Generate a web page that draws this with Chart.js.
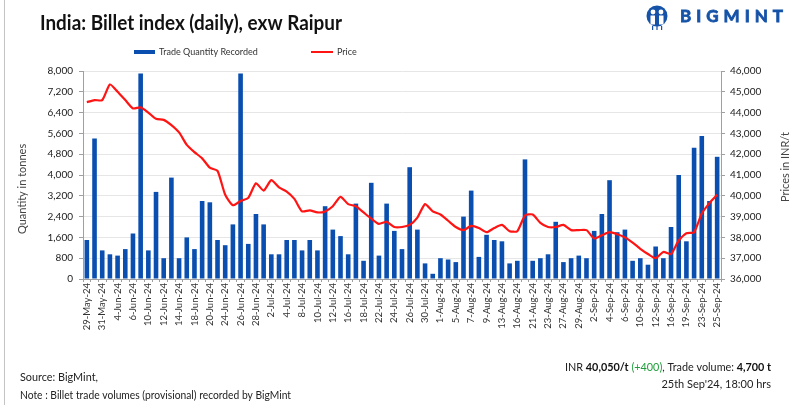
<!DOCTYPE html>
<html>
<head>
<meta charset="utf-8">
<script src="https://cdn.jsdelivr.net/npm/chart.js@4.4.1/dist/chart.umd.min.js"></script>
<style>
  html, body { margin: 0; padding: 0; background: #ffffff; overflow: hidden; }
  #wrap { width: 791px; height: 405px; position: relative; }
</style>
</head>
<body>
<div id="wrap"><canvas id="c" width="791" height="405"></canvas></div>
<script>
// ---------- DATA ----------
const categories = [
  "29-May-24","30-May-24","31-May-24","3-Jun-24","4-Jun-24","5-Jun-24","6-Jun-24","7-Jun-24",
  "10-Jun-24","11-Jun-24","12-Jun-24","13-Jun-24","14-Jun-24","15-Jun-24","18-Jun-24","19-Jun-24",
  "20-Jun-24","21-Jun-24","24-Jun-24","25-Jun-24","26-Jun-24","27-Jun-24","28-Jun-24","1-Jul-24",
  "2-Jul-24","3-Jul-24","4-Jul-24","5-Jul-24","8-Jul-24","9-Jul-24","10-Jul-24","11-Jul-24",
  "12-Jul-24","15-Jul-24","16-Jul-24","17-Jul-24","18-Jul-24","19-Jul-24","22-Jul-24","23-Jul-24",
  "24-Jul-24","25-Jul-24","26-Jul-24","29-Jul-24","30-Jul-24","31-Jul-24","1-Aug-24","2-Aug-24",
  "5-Aug-24","6-Aug-24","7-Aug-24","8-Aug-24","9-Aug-24","12-Aug-24","13-Aug-24","14-Aug-24",
  "16-Aug-24","20-Aug-24","21-Aug-24","22-Aug-24","23-Aug-24","26-Aug-24","27-Aug-24","28-Aug-24",
  "29-Aug-24","30-Aug-24","2-Sep-24","3-Sep-24","4-Sep-24","5-Sep-24","6-Sep-24","9-Sep-24",
  "10-Sep-24","11-Sep-24","12-Sep-24","13-Sep-24","16-Sep-24","17-Sep-24","19-Sep-24","20-Sep-24",
  "23-Sep-24","24-Sep-24","25-Sep-24"
];

const tradeQuantity = [
  1500,5400,1100,950,900,1150,1750,7900,
  1100,3350,800,3900,800,1600,1150,3000,
  2950,1500,1300,2100,7900,1350,2500,2100,
  950,950,1500,1500,1100,1500,1100,2800,
  1900,1650,950,2900,700,3700,900,2900,
  1850,1150,4300,1900,600,200,800,750,
  650,2400,3400,850,1700,1500,1450,600,
  700,4600,700,800,950,2200,650,800,
  900,800,1850,2500,3800,1800,1900,700,
  800,550,1250,800,2000,4000,1450,5050,
  5500,3000,4700
];

const priceValues = [
  44500,44600,44600,45350,45000,44600,44200,44250,
  44000,43700,43650,43400,43050,42450,42100,41800,
  41350,41200,40050,39550,39750,39900,40600,40250,
  40750,40400,40200,39850,39250,39300,39200,39250,
  39500,39950,39600,39500,39200,38900,38650,38750,
  38500,38500,38600,38950,39600,39250,39100,38800,
  38500,38350,38550,38450,38250,38450,38600,38300,
  38300,39050,39100,38700,38500,38500,38600,38350,
  38350,38350,37950,38100,38250,38150,38000,37750,
  37450,37200,37000,37300,37200,37850,38200,38250,
  39150,39650,40050
];

const seriesNames = ["Trade Quantity Recorded", "Price"];
const qtyAxis = { min: 0, max: 8000, step: 800 };
const priceAxis = { min: 36000, max: 46000, step: 1000 };
const titleText = "India: Billet index (daily), exw Raipur";
const leftAxisTitle = "Quantity in tonnes";
const rightAxisTitle = "Prices in INR/t";
const sourceText = "Source: BigMint,";
const noteText = "Note : Billet trade volumes (provisional) recorded by BigMint";
const dateStamp = "25th Sep'24, 18:00 hrs";
const brandName = "BIGMINT";

// ---------- STYLE ----------
const FONT = "Lato, 'Liberation Sans', sans-serif";
const BAR_COLOR = "#0a4fb0";
const LINE_COLOR = "#ff1414";
const fmt = v => Number(v).toLocaleString("en-US");

// draw text squeezed horizontally to a target width (like the narrow original font)
function drawRuns(ctx, runs, x, y, align, targetWidth) {
  let total = 0;
  runs.forEach(r => { ctx.font = r.font; total += ctx.measureText(r.text).width; });
  const k = targetWidth ? Math.min(1, targetWidth / total) : 1;
  const w = total * k;
  let sx = align === "right" ? x - w : x;
  ctx.save();
  ctx.textBaseline = "middle";
  ctx.textAlign = "left";
  runs.forEach(r => {
    ctx.font = r.font;
    ctx.fillStyle = r.color;
    const rw = ctx.measureText(r.text).width;
    ctx.save();
    ctx.translate(sx, y);
    ctx.scale(k, 1);
    ctx.fillText(r.text, 0, 0);
    ctx.restore();
    sx += rw * k;
  });
  ctx.restore();
}

const decorPlugin = {
  id: "decor",
  beforeDraw(chart) {
    const ctx = chart.ctx;
    ctx.save();
    ctx.fillStyle = "#ffffff";
    ctx.fillRect(0, 0, chart.width, chart.height);
    ctx.strokeStyle = "#c4c4c4";
    ctx.lineWidth = 1;
    ctx.beginPath(); ctx.moveTo(4.5, 0); ctx.lineTo(4.5, 405); ctx.stroke();
    ctx.restore();
  },
  afterDraw(chart) {
    const ctx = chart.ctx;
    const area = chart.chartArea;
    ctx.save();
    // Title
    drawRuns(ctx, [{ text: titleText, font: "bold 20px " + FONT, color: "#111" }], 40, 24, "left", 302);

    // Logo icon
    const cx = 657, cy = 16;
    ctx.fillStyle = "#1553a8";
    ctx.beginPath(); ctx.arc(cx, cy, 10.5, 0, Math.PI * 2); ctx.fill();
    ctx.fillStyle = "#ffffff";
    ctx.beginPath(); ctx.arc(cx - 4, cy - 4, 2.4, 0, Math.PI * 2); ctx.fill();
    ctx.beginPath(); ctx.arc(cx + 4, cy - 4, 2.4, 0, Math.PI * 2); ctx.fill();
    ctx.fillRect(cx - 6.5, cy - 0.5, 4.5, 9);
    ctx.fillRect(cx + 2, cy - 0.5, 4.5, 9);
    ctx.fillStyle = "#1553a8";
    ctx.fillRect(cx - 5, cy + 10, 1.2, 4);
    ctx.fillRect(cx + 4, cy + 10, 1.2, 4);
    ctx.fillRect(cx - 0.6, cy + 9, 1.2, 5);
    // Brand name
    ctx.fillStyle = "#1553a8";
    ctx.strokeStyle = "#1553a8";
    ctx.lineWidth = 0.8;
    ctx.font = "bold 17px " + FONT;
    ctx.textBaseline = "middle";
    ctx.textAlign = "left";
    try { ctx.letterSpacing = "5px"; } catch (e) {}
    ctx.fillText(brandName, 680, 17, 108);
    ctx.strokeText(brandName, 680, 17, 108);
    try { ctx.letterSpacing = "0px"; } catch (e) {}

    // Legend
    ctx.fillStyle = BAR_COLOR;
    ctx.fillRect(134, 50, 21, 4);
    ctx.strokeStyle = LINE_COLOR;
    ctx.lineWidth = 2;
    ctx.beginPath(); ctx.moveTo(311, 52); ctx.lineTo(333, 52); ctx.stroke();
    drawRuns(ctx, [{ text: seriesNames[0], font: "9px " + FONT, color: "#333" }], 159, 52, "left", 101);
    drawRuns(ctx, [{ text: seriesNames[1], font: "9px " + FONT, color: "#333" }], 337, 52, "left", 21);

    // Axis titles
    ctx.save();
    ctx.translate(22, (area.top + area.bottom) / 2 + 12);
    ctx.rotate(-Math.PI / 2);
    drawRuns(ctx, [{ text: leftAxisTitle, font: "11px " + FONT, color: "#444" }], -47, 0, "left", 94);
    ctx.restore();
    ctx.save();
    ctx.translate(785, (area.top + area.bottom) / 2 - 8);
    ctx.rotate(-Math.PI / 2);
    drawRuns(ctx, [{ text: rightAxisTitle, font: "11px " + FONT, color: "#444" }], -35, 0, "left", 70);
    ctx.restore();

    // Footer
    drawRuns(ctx, [{ text: sourceText, font: "11px " + FONT, color: "#222" }], 20, 377, "left", 78);
    drawRuns(ctx, [{ text: noteText, font: "11px " + FONT, color: "#222" }], 20, 395, "left", 271);
    const last = priceValues[priceValues.length - 1];
    const prev = priceValues[priceValues.length - 2];
    const diff = last - prev;
    drawRuns(ctx, [
      { text: "INR ", font: "11px " + FONT, color: "#222" },
      { text: fmt(last) + "/t", font: "bold 11px " + FONT, color: "#111" },
      { text: " (" + (diff >= 0 ? "+" : "") + fmt(diff) + ")", font: "11px " + FONT, color: "#1e9e3a" },
      { text: ", Trade volume: ", font: "11px " + FONT, color: "#222" },
      { text: fmt(tradeQuantity[tradeQuantity.length - 1]) + " t", font: "bold 11px " + FONT, color: "#111" }
    ], 771, 367, "right", 206);
    drawRuns(ctx, [{ text: dateStamp, font: "11px " + FONT, color: "#222" }], 771, 384, "right", 110);
    ctx.restore();
  }
};

new Chart(document.getElementById("c"), {
  data: {
    labels: categories,
    datasets: [
      {
        type: "line",
        label: seriesNames[1],
        data: priceValues,
        yAxisID: "y1",
        borderColor: LINE_COLOR,
        backgroundColor: LINE_COLOR,
        borderWidth: 2.2,
        pointRadius: 0,
        tension: 0.2,
        order: 0
      },
      {
        type: "bar",
        label: seriesNames[0],
        data: tradeQuantity,
        yAxisID: "y",
        backgroundColor: BAR_COLOR,
        barPercentage: 0.6,
        categoryPercentage: 1.0,
        order: 1
      }
    ]
  },
  options: {
    responsive: false,
    devicePixelRatio: 1,
    animation: false,
    layout: { padding: { top: 71, left: 0, right: 0, bottom: 0 } },
    plugins: { legend: { display: false }, title: { display: false }, tooltip: { enabled: false } },
    scales: {
      x: {
        type: "category",
        offset: true,
        grid: { drawOnChartArea: false, drawTicks: true, tickLength: 3, color: "#a0a0a0" },
        border: { color: "#a0a0a0" },
        ticks: {
          autoSkip: false,
          minRotation: 90,
          maxRotation: 90,
          padding: 1,
          color: "#333",
          font: { family: FONT, size: 9.5 },
          callback: function (value, index) { return index % 2 === 0 ? categories[index] : ""; }
        },
        afterFit(s) { s.height = 405 - 279; }
      },
      y: {
        position: "left",
        min: qtyAxis.min,
        max: qtyAxis.max,
        grid: { color: "#e6e6e6", drawTicks: true, tickLength: 4, tickColor: "#a0a0a0" },
        border: { color: "#a0a0a0" },
        ticks: {
          stepSize: qtyAxis.step,
          padding: 6,
          color: "#1a1a1a",
          font: { family: FONT, size: 10 },
          callback: v => fmt(v)
        },
        afterFit(s) { s.width = 83; }
      },
      y1: {
        position: "right",
        min: priceAxis.min,
        max: priceAxis.max,
        grid: { drawOnChartArea: false, drawTicks: true, tickLength: 4, color: "#a0a0a0" },
        border: { color: "#a0a0a0" },
        ticks: {
          stepSize: priceAxis.step,
          padding: 5,
          color: "#1a1a1a",
          font: { family: FONT, size: 10 },
          callback: v => fmt(v)
        },
        afterFit(s) { s.width = 791 - 721; }
      }
    }
  },
  plugins: [decorPlugin]
});
</script>
</body>
</html>
